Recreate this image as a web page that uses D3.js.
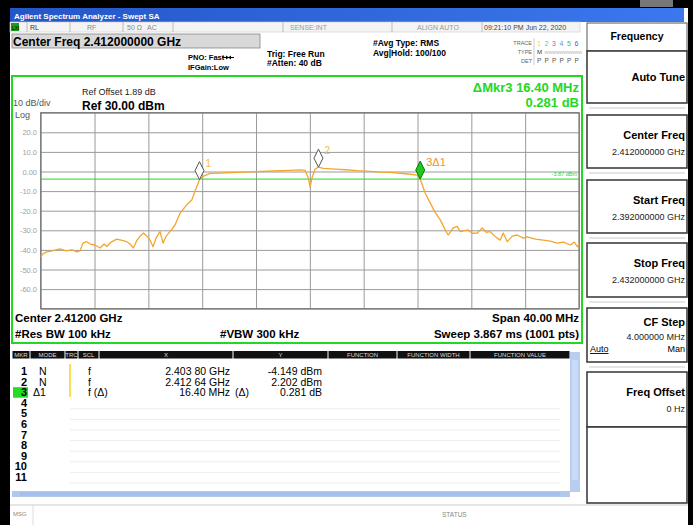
<!DOCTYPE html>
<html>
<head>
<meta charset="utf-8">
<script src="https://cdn.jsdelivr.net/npm/d3@7"></script>
<style>
  body { margin: 0; background: #000; }
  svg { display: block; font-family: "Liberation Sans", Arial, sans-serif; }
</style>
</head>
<body>
<svg id="screen" width="693" height="525"></svg>
<script>
// ---- data ----
const startMHz = 2392, stopMHz = 2432;
const refLevel = 30, bottomLevel = -70;
const yTickLabels = ['20.0', '10.0', '0.00', '-10.0', '-20.0', '-30.0', '-40.0', '-50.0', '-60.0'];
const yTickValues = [20, 10, 0, -10, -20, -30, -40, -50, -60];

// trace (MHz, dBm)
const traceFreq = [2392.00, 2392.17, 2392.45, 2392.84, 2393.43, 2393.88, 2394.33, 2394.68, 2394.92, 2395.14,
  2395.42, 2395.67, 2396.04, 2396.41, 2396.71, 2396.91, 2397.23, 2397.65, 2397.97, 2398.39,
  2398.64, 2398.88, 2399.16, 2399.38, 2399.63, 2399.90, 2400.12, 2400.35, 2400.57, 2400.87,
  2401.09, 2401.32, 2401.61, 2401.98, 2402.36, 2402.85, 2403.23, 2403.47, 2403.70, 2403.80,
  2404.07, 2404.59, 2405.33, 2406.08, 2406.82, 2407.93, 2409.27, 2410.53, 2411.28, 2411.65,
  2411.87, 2412.02, 2412.17, 2412.39, 2412.64, 2412.99, 2413.88, 2414.63, 2415.52, 2416.49,
  2417.23, 2417.97, 2418.72, 2419.46, 2419.98, 2420.20, 2420.57, 2420.94, 2421.32, 2421.69,
  2422.06, 2422.28, 2422.65, 2422.95, 2423.17, 2423.77, 2424.06, 2424.44, 2424.81, 2425.11,
  2425.40, 2425.92, 2426.15, 2426.37, 2426.67, 2427.04, 2427.41, 2427.86, 2428.16, 2428.75,
  2429.35, 2429.87, 2430.39, 2430.84, 2431.36, 2431.66, 2431.88, 2432.00];
const traceLevel = [-43.5, -42, -41, -40.5, -39.5, -40.5, -40, -41, -40.5, -36.5,
  -35.8, -37, -37.5, -39, -37, -38.3, -36, -34.5, -35, -35.8,
  -37, -39, -35, -33, -31.4, -33, -35, -38.4, -34, -30.7,
  -36.5, -33, -30.7, -27.3, -21.2, -17, -14.5, -10, -6, -4.149,
  -2.5, -1.0, -0.8, -0.5, -0.4, -0.1, 0.25, 0.6, 0.8, 0.6,
  -3, -8, -3, 1.3, 2.202, 1.6, 1.2, 0.9, 0.4, 0.1,
  -0.3, -0.4, -0.9, -1.4, -1.8, -3.868, -11, -16, -21, -24.7,
  -29.8, -32.4, -28.8, -28, -30.7, -29.8, -31.5, -31.4, -28.8, -31,
  -30.7, -34, -35, -31.4, -35.8, -33, -32.4, -34, -33.3, -34.5,
  -35, -35.5, -36.5, -36, -37.5, -36, -38.4, -37];

// markers
const markerNames = ['1', '2', '3\u03941'];
const markerFreq = [2403.80, 2412.64, 2420.20];
const markerLevel = [-4.149, 2.202, -3.868];
const displayLine = -3.87;

// marker table
const tableMkr = ['1', '2', '3', '4', '5', '6', '7', '8', '9', '10', '11'];
const tableMode = ['N', 'N', '\u03941'];
const tableScl = ['f', 'f', 'f  (\u0394)'];
const tableX = ['2.403 80 GHz', '2.412 64 GHz', '16.40 MHz'];
const tableXunit = ['', '', '(\u0394)'];
const tableY = ['-4.149 dBm', '2.202 dBm', '0.281 dB'];
const tableHeaders = ['MKR', 'MODE', 'TRC', 'SCL', 'X', 'Y', 'FUNCTION', 'FUNCTION WIDTH', 'FUNCTION VALUE'];

// softkeys
const softLabels = ['Auto Tune', 'Center Freq', 'Start Freq', 'Stop Freq', 'CF Step', 'Freq Offset'];
const softValues = ['', '2.412000000 GHz', '2.392000000 GHz', '2.432000000 GHz', '4.000000 MHz', '0 Hz'];

// ---- drawing ----
const svg = d3.select('#screen');
const green = '#22d822';

// window
svg.append('rect').attr('x', 0).attr('y', 0).attr('width', 693).attr('height', 525).attr('fill', '#000');
svg.append('rect').attr('x', 640).attr('y', 0).attr('width', 33).attr('height', 7).attr('fill', '#777');
svg.append('rect').attr('x', 10).attr('y', 8).attr('width', 678).attr('height', 517).attr('fill', '#fff');

const grad = svg.append('defs').append('linearGradient').attr('id', 'title');
grad.append('stop').attr('offset', '0%').attr('stop-color', '#2456c8');
grad.append('stop').attr('offset', '100%').attr('stop-color', '#3b78ee');
svg.append('rect').attr('x', 10).attr('y', 8).attr('width', 674).attr('height', 14).attr('fill', 'url(#title)');
svg.append('text').attr('x', 14).attr('y', 18.5).attr('fill', '#fff')
  .style('font-size', '8px').style('font-weight', 'bold').text('Agilent Spectrum Analyzer - Swept SA');

// status row
svg.append('rect').attr('x', 10).attr('y', 22).attr('width', 570).attr('height', 10)
  .attr('fill', '#f4f4f4').attr('stroke', '#ccc').attr('stroke-width', 0.6);
svg.append('rect').attr('x', 11).attr('y', 23).attr('width', 8).attr('height', 8).attr('fill', '#1c9a1c');
svg.append('text').attr('x', 12).attr('y', 29.5).attr('fill', '#000').style('font-size', '5px').text('LXI');
[27, 70, 123, 173, 283, 392, 482].forEach(x => {
  svg.append('line').attr('x1', x).attr('x2', x).attr('y1', 22).attr('y2', 32).attr('stroke', '#bbb');
});
const statusTexts = [[30, 'RL', '#333'], [87, 'RF', '#888'], [127, '50 \u03a9', '#888'], [147, 'AC', '#888'],
  [290, 'SENSE:INT', '#999'], [417, 'ALIGN AUTO', '#999'], [484, '09:21:10 PM Jun 22, 2020', '#444']];
statusTexts.forEach(d => {
  svg.append('text').attr('x', d[0]).attr('y', 29.5).attr('fill', d[2]).style('font-size', '7px').text(d[1]);
});

// header block
svg.append('rect').attr('x', 12).attr('y', 34).attr('width', 248).attr('height', 14)
  .attr('fill', '#d8d8d8').attr('stroke', '#888').attr('stroke-width', 0.8);
svg.append('text').attr('x', 13).attr('y', 45.5).style('font-size', '12px').style('font-weight', 'bold')
  .text('Center Freq 2.412000000 GHz');
const small = (x, y, t, size, anchor) => svg.append('text').attr('x', x).attr('y', y)
  .attr('text-anchor', anchor || 'start').style('font-size', (size || 8) + 'px').style('font-weight', 'bold').text(t);
small(188, 60, 'PNO: Fast', 7.5);
svg.append('line').attr('x1', 222).attr('x2', 234).attr('y1', 57.5).attr('y2', 57.5).attr('stroke', '#000');
svg.append('path').attr('d', 'M226,55.5 L229,57.5 L226,59.5 Z M231,55.5 L228,57.5 L231,59.5 Z').attr('fill', '#000');
small(188, 70, 'IFGain:Low', 7.5);
small(267, 57, 'Trig: Free Run', 8.5);
small(267, 66, '#Atten: 40 dB', 8.5);
small(373, 46, '#Avg Type: RMS', 8.5);
small(373, 56, 'Avg|Hold: 100/100', 8.5);
svg.append('text').attr('x', 532).attr('y', 45).attr('text-anchor', 'end').attr('fill', '#666').style('font-size', '5.5px').text('TRACE');
svg.append('text').attr('x', 532).attr('y', 54).attr('text-anchor', 'end').attr('fill', '#666').style('font-size', '5.5px').text('TYPE');
svg.append('text').attr('x', 532).attr('y', 63).attr('text-anchor', 'end').attr('fill', '#666').style('font-size', '5.5px').text('DET');
svg.append('line').attr('x1', 534).attr('x2', 534).attr('y1', 38).attr('y2', 65).attr('stroke', '#ccc');
const traceColors = ['#e8d840', '#40c8e0', '#e040c0', '#6090f0', '#40c040', '#4060f0'];
traceColors.forEach((c, i) => {
  svg.append('text').attr('x', 537 + i * 7.5).attr('y', 45.5).attr('fill', c).style('font-size', '7px').text(i + 1);
  svg.append('text').attr('x', 537 + i * 7.5).attr('y', 54).attr('fill', i === 0 ? '#333' : '#aaa')
    .style('font-size', i === 0 ? '6px' : '4px').text(i === 0 ? 'M' : 'WW');
  svg.append('text').attr('x', 537 + i * 7.5).attr('y', 63).attr('fill', '#555').style('font-size', '6.5px').text('P');
});

// display frame
svg.append('rect').attr('x', 12).attr('y', 76).attr('width', 570).attr('height', 267)
  .attr('fill', '#fff').attr('stroke', green).attr('stroke-width', 2);

const x = d3.scaleLinear().domain([startMHz, stopMHz]).range([40.7, 579]);
const y = d3.scaleLinear().domain([bottomLevel, refLevel]).range([308.7, 112.7]);
const plotW = 579 - 40.7, plotH = 308.7 - 112.7;

svg.append('text').attr('x', 82).attr('y', 95).style('font-size', '9px').attr('fill', '#222').text('Ref Offset 1.89 dB');
svg.append('text').attr('x', 82).attr('y', 109.5).style('font-size', '12px').style('font-weight', 'bold').text('Ref 30.00 dBm');
svg.append('text').attr('x', 13).attr('y', 106).style('font-size', '9px').attr('fill', '#555').text('10 dB/div');
svg.append('text').attr('x', 15).attr('y', 117.5).style('font-size', '9px').attr('fill', '#555').text('Log');

svg.append('text').attr('x', 579).attr('y', 92).attr('text-anchor', 'end').attr('fill', green)
  .style('font-size', '13px').style('font-weight', 'bold').text('\u0394Mkr3 16.40 MHz');
svg.append('text').attr('x', 579).attr('y', 107).attr('text-anchor', 'end').attr('fill', green)
  .style('font-size', '13px').style('font-weight', 'bold').text('0.281 dB');

// graticule
const plot = svg.append('g');
plot.append('g').attr('transform', `translate(0,${y(bottomLevel)})`)
  .call(d3.axisBottom(x).tickValues(d3.range(startMHz, stopMHz + 1, 4)).tickSize(plotH).tickFormat(''))
  .call(g => g.select('.domain').remove())
  .call(g => g.selectAll('line').attr('y2', -plotH).attr('stroke', '#9a9a9a'));
plot.append('g').attr('transform', `translate(${x(startMHz)},0)`)
  .call(d3.axisLeft(y).tickValues(d3.range(bottomLevel, refLevel + 1, 10)).tickSize(-plotW).tickFormat(''))
  .call(g => g.select('.domain').remove())
  .call(g => g.selectAll('line').attr('stroke', '#9a9a9a'));
plot.append('rect').attr('x', x(startMHz)).attr('y', y(refLevel)).attr('width', plotW).attr('height', plotH)
  .attr('fill', 'none').attr('stroke', '#777').attr('stroke-width', 1.2);

yTickValues.forEach((v, i) => {
  plot.append('text').attr('x', 37).attr('y', y(v) + 3).attr('text-anchor', 'end')
    .attr('fill', '#a0a0a0').style('font-size', '7.5px').text(yTickLabels[i]);
});

// display line
plot.append('line').attr('x1', x(startMHz)).attr('x2', x(stopMHz)).attr('y1', y(displayLine)).attr('y2', y(displayLine))
  .attr('stroke', green).attr('stroke-width', 1);
plot.append('text').attr('x', 577).attr('y', y(displayLine) - 3).attr('text-anchor', 'end')
  .attr('fill', green).style('font-size', '5.5px').text('-3.87 dBm');

// trace
const pts = traceFreq.map((f, i) => [f, traceLevel[i]]);
plot.append('path').datum(pts)
  .attr('d', d3.line().x(d => x(d[0])).y(d => y(d[1])))
  .attr('fill', 'none').attr('stroke', '#f4a62c').attr('stroke-width', 1.3).attr('stroke-linejoin', 'round');

// markers
markerFreq.forEach((f, i) => {
  const g = plot.append('g').attr('transform', `translate(${x(f)},${y(markerLevel[i])})`);
  const active = i === 2;
  g.append('path').attr('d', 'M0,0 L-4.5,-9 L0,-18 L4.5,-9 Z')
    .attr('fill', active ? '#1fc81f' : '#fff').attr('stroke', active ? '#0a7a0a' : '#555').attr('stroke-width', 1);
  g.append('text').attr('x', 6).attr('y', -13).attr('fill', active ? '#f09030' : '#efc050')
    .style('font-size', active ? '11px' : '10px').text(markerNames[i]);
});

// bottom annotations
const bold = (xx, yy, t, anchor) => svg.append('text').attr('x', xx).attr('y', yy).attr('text-anchor', anchor || 'start')
  .style('font-size', '11.5px').style('font-weight', 'bold').text(t);
bold(15, 322, 'Center 2.41200 GHz');
bold(15, 338, '#Res BW 100 kHz');
bold(220, 338, '#VBW 300 kHz');
bold(579, 322, 'Span 40.00 MHz', 'end');
bold(579, 338, 'Sweep  3.867 ms (1001 pts)', 'end');

// marker table
const colEdges = [12, 30, 65, 78, 99, 233, 328, 397, 470, 570];
tableHeaders.forEach((h, i) => {
  svg.append('rect').attr('x', colEdges[i] + 0.5).attr('y', 351).attr('width', colEdges[i + 1] - colEdges[i] - 1)
    .attr('height', 7.5).attr('fill', '#111');
  svg.append('text').attr('x', (colEdges[i] + colEdges[i + 1]) / 2).attr('y', 357).attr('text-anchor', 'middle')
    .attr('fill', '#ddd').style('font-size', '6px').text(h);
});
const rowY = i => 375 + i * 10.6;
tableMkr.forEach((m, i) => {
  if (i >= 3) {
    svg.append('line').attr('x1', 70).attr('x2', 560).attr('y1', rowY(i) + 2).attr('y2', rowY(i) + 2)
      .attr('stroke', '#e6e6e6').attr('stroke-width', 0.7);
  }
  if (i === 2) svg.append('rect').attr('x', 13).attr('y', rowY(i) - 9).attr('width', 15).attr('height', 10.5).attr('fill', '#22dd22');
  svg.append('text').attr('x', 27).attr('y', rowY(i)).attr('text-anchor', 'end')
    .style('font-size', '11px').style('font-weight', 'bold').text(m);
});
tableMode.forEach((m, i) => {
  svg.append('text').attr('x', i === 2 ? 33 : 39).attr('y', rowY(i)).style('font-size', '10.5px').text(m);
  svg.append('text').attr('x', 88).attr('y', rowY(i)).style('font-size', '10.5px').text(tableScl[i]);
  svg.append('text').attr('x', 230).attr('y', rowY(i)).attr('text-anchor', 'end').style('font-size', '10.5px').text(tableX[i]);
  svg.append('text').attr('x', 235).attr('y', rowY(i)).style('font-size', '10.5px').text(tableXunit[i]);
  svg.append('text').attr('x', 322).attr('y', rowY(i)).attr('text-anchor', 'end').style('font-size', '10.5px').text(tableY[i]);
});
svg.append('rect').attr('x', 69).attr('y', 364).attr('width', 2).attr('height', 33).attr('fill', '#f5e050');

// scroll bars
svg.append('rect').attr('x', 570).attr('y', 352).attr('width', 10).attr('height', 140).attr('fill', '#b8cdf0');
svg.append('rect').attr('x', 572).attr('y', 360).attr('width', 6).attr('height', 120).attr('fill', '#c8daf6');
svg.append('rect').attr('x', 12).attr('y', 491).attr('width', 558).attr('height', 6).attr('fill', '#b4c8ee');
svg.append('rect').attr('x', 20).attr('y', 492).attr('width', 540).attr('height', 4).attr('fill', '#a6bff0');

// message bar
svg.append('line').attr('x1', 10).attr('x2', 688).attr('y1', 505).attr('y2', 505).attr('stroke', '#ccc');
svg.append('line').attr('x1', 33).attr('x2', 33).attr('y1', 505).attr('y2', 525).attr('stroke', '#ddd');
svg.append('text').attr('x', 13).attr('y', 516).attr('fill', '#888').style('font-size', '6px').text('MSG');
svg.append('text').attr('x', 442).attr('y', 517).attr('fill', '#888').style('font-size', '6.5px').text('STATUS');

// softkeys
svg.append('rect').attr('x', 587).attr('y', 23).attr('width', 100).attr('height', 28)
  .attr('fill', '#fff').attr('stroke', '#555').attr('stroke-width', 1);
svg.append('text').attr('x', 637).attr('y', 40).attr('text-anchor', 'middle')
  .style('font-size', '10.5px').style('font-weight', 'bold').text('Frequency');
const boxTop = [51, 115, 180, 243, 308, 372];
const boxBot = [103, 168, 233, 297, 362, 427];
softLabels.forEach((l, i) => {
  svg.append('rect').attr('x', 587).attr('y', boxTop[i]).attr('width', 100).attr('height', boxBot[i] - boxTop[i])
    .attr('fill', '#fff').attr('stroke', '#333').attr('stroke-width', 1.5);
  if (i < 5) svg.append('line').attr('x1', 589).attr('x2', 685).attr('y1', boxBot[i] + 5).attr('y2', boxBot[i] + 5)
    .attr('stroke', '#ccc');
  const ly = i === 0 ? 81 : (i === 4 ? boxTop[i] + 18 : boxTop[i] + 24);
  svg.append('text').attr('x', 685).attr('y', ly).attr('text-anchor', 'end')
    .style('font-size', '11px').style('font-weight', 'bold').text(l);
  if (softValues[i]) svg.append('text').attr('x', 685).attr('y', i === 4 ? boxTop[i] + 32 : ly + 16).attr('text-anchor', 'end')
    .style('font-size', '9px').attr('fill', '#222').text(softValues[i]);
});
svg.append('text').attr('x', 590).attr('y', 352).style('font-size', '9px').style('text-decoration', 'underline').text('Auto');
svg.append('text').attr('x', 685).attr('y', 352).attr('text-anchor', 'end').style('font-size', '9px').text('Man');
svg.append('rect').attr('x', 587).attr('y', 427).attr('width', 100).attr('height', 76)
  .attr('fill', '#fff').attr('stroke', '#333').attr('stroke-width', 1.5);
</script>
</body>
</html>
